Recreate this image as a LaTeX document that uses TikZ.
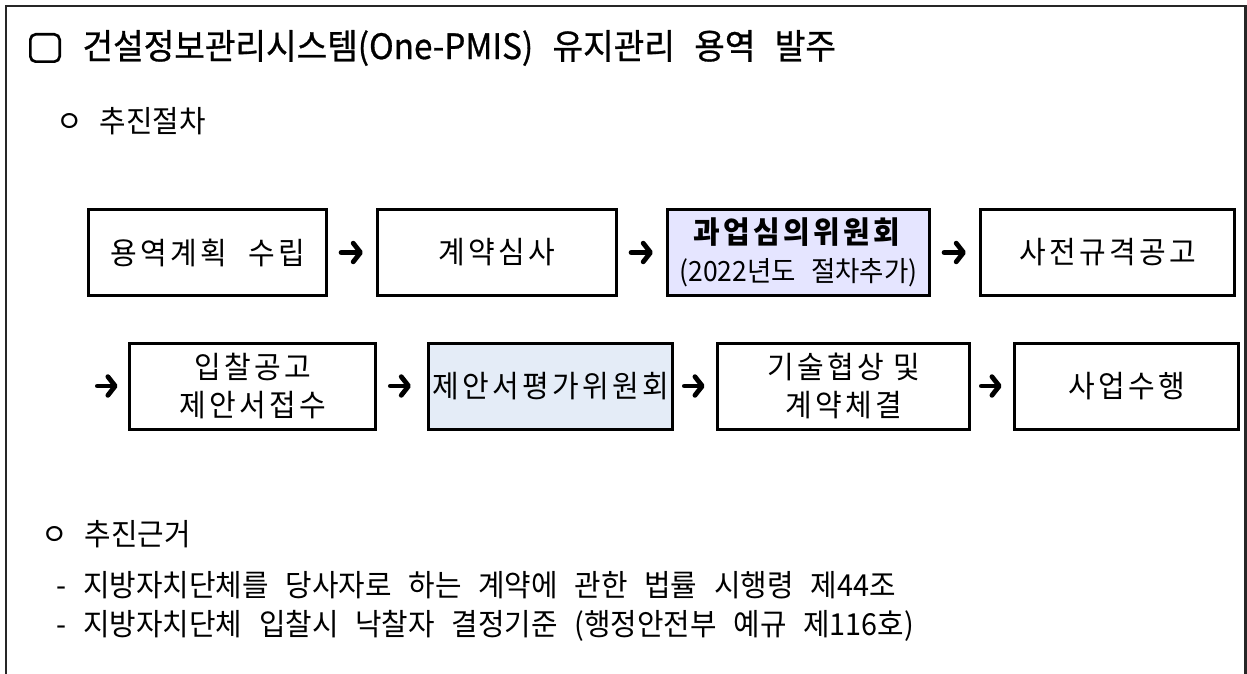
\documentclass[tikz,border=0pt]{standalone}
\usepackage{fontspec}
\setmainfont{Noto Sans CJK KR}[WordSpace=2.6, FakeStretch=0.95]
\newfontfamily\titlefont{Noto Sans CJK KR}[WordSpace=2.6, FakeStretch=0.95, FakeBold=0.8]
\newfontfamily\boxfont{Noto Sans CJK KR}[WordSpace=2.6, FakeStretch=0.95, LetterSpace=11]
\usepackage{tikz}
\usetikzlibrary{arrows.meta, positioning}
\definecolor{councilfill}{RGB}{229,229,255}
\definecolor{evalfill}{RGB}{228,236,247}
\newcommand{\TitleSize}{\titlefont\fontsize{26.25pt}{31pt}\selectfont}
\newcommand{\BoxSize}{\boxfont\fontsize{22.9pt}{28.5pt}\selectfont}
\newcommand{\NoteSize}{\normalfont\fontsize{20.9pt}{24pt}\selectfont}
\newcommand{\BodySize}{\fontsize{22.75pt}{27pt}\selectfont}
\tikzset{
  every picture/.style={line width=0.8pt},
  stepbox/.style={draw, line width=2.25pt, minimum height=64.5pt, inner sep=2pt, align=center, font=\BoxSize},
  flow/.style={-{Straight Barb[round, length=5.5pt, width=14pt]}, line width=3.6pt, line cap=round, shorten <=9.8pt, shorten >=9.8pt},
  bodytext/.style={anchor=west, inner sep=0pt, font=\BodySize}
}

\begin{document}
\begin{tikzpicture}[x=0.75pt, y=-0.75pt, node distance=36pt]
    \useasboundingbox (0,0) rectangle (1247,674);
    % page frame
    \draw[line width=1.6pt, black!85] (6,690) -- (6,6) -- (1245.5,6) -- (1245.5,690);

    \node [draw, rounded corners=4pt, line width=2pt, minimum width=22pt, minimum height=20.5pt] (check) at (45,48) {};
    \node [anchor=west, inner sep=0pt, font=\TitleSize] (title) at (82,48) {건설정보관리시스템(One-PMIS) 유지관리 용역 발주};

    \node [bodytext] (steps) at (56,121) {ㅇ 추진절차};

    % first row
    \node [stepbox, minimum width=178.5pt] (plan) at (207.5,252.5) {용역계획\hspace{0.7em}수립};
    \node [stepbox, minimum width=179.25pt, right=of plan] (review) {계약심사};
    \node [stepbox, minimum width=196.5pt, fill=councilfill, right=of review] (council) {\textbf{과업심의위원회}\\{\NoteSize (2022년도 절차추가)}};
    \node [stepbox, minimum width=190.5pt, right=of council] (prenotice) {사전규격공고};

    % second row
    \node [stepbox, minimum width=184.5pt] (bid) at (252.5,386) {입찰공고\\제안서접수};
    \node [stepbox, minimum width=183pt, fill=evalfill, right=37.5pt of bid] (evalboard) {제안서평가위원회};
    \node [stepbox, minimum width=189pt, right=31.5pt of evalboard] (negotiate) {기술협상\hspace{0.3em}및\\계약체결};
    \node [stepbox, minimum width=168pt, right=31.5pt of negotiate] (perform) {사업수행};
    \coordinate (wrap) at (97.4,386);

    \draw (plan) edge[flow] (review);
    \draw (review) edge[flow] (council);
    \draw (council) edge[flow] (prenotice);
    \draw (wrap) edge[flow, shorten <=0pt, shorten >=7.8pt] (bid);
    \draw (bid) edge[flow, shorten <=10pt, shorten >=12pt] (evalboard);
    \draw (evalboard) edge[flow, shorten <=7.8pt, shorten >=8.5pt] (negotiate);
    \draw (negotiate) edge[flow, shorten <=7.8pt, shorten >=8.5pt] (perform);

    \node [bodytext] (basis) at (41,534) {ㅇ 추진근거};
    \node [bodytext] (law) at (56,585) {- 지방자치단체를 당사자로 하는 계약에 관한 법률 시행령 제44조};
    \node [bodytext] (rule) at (56,626) {- 지방자치단체 입찰시 낙찰자 결정기준 (행정안전부 예규 제116호)};
\end{tikzpicture}
\end{document}
